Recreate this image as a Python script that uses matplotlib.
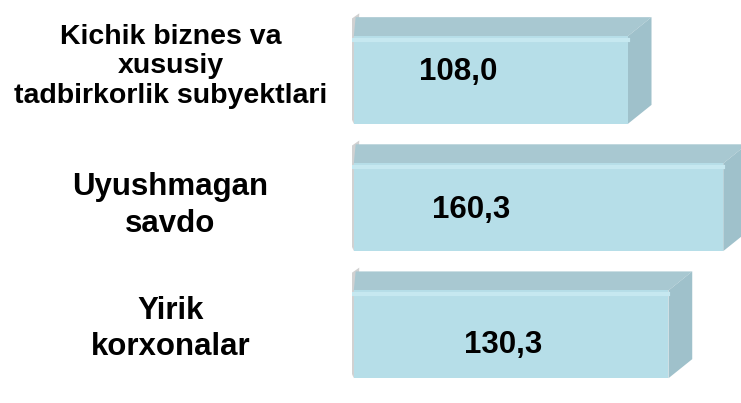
import matplotlib

matplotlib.use("Agg")
import matplotlib.pyplot as plt  # noqa: E402
import matplotlib.transforms as mtransforms  # noqa: E402
from matplotlib.patches import Polygon  # noqa: E402

categories = [
    "Kichik biznes va\nxususiy\ntadbirkorlik subyektlari",
    "Uyushmagan\nsavdo",
    "Yirik\nkorxonalar",
]
values = [108.0, 160.3, 130.3]
value_labels = ["108,0", "160,3", "130,3"]

BASE = -42.0  # bars start left of zero, like the original 3D chart
FRONT = "#b6dee8"
TOP = "#a8c8d1"
SIDE = "#9fc1cb"

fig = plt.figure(figsize=(7.41, 4.03), dpi=100)
ax = fig.add_axes([0.475, 0.0, 0.525, 1.0])

ypos = list(range(len(values)))
height = 0.69
depth_x = 13.0
depth_y = 0.15

bars = ax.barh(
    ypos,
    [v - BASE for v in values],
    left=BASE,
    height=height,
    color=FRONT,
    edgecolor="none",
    zorder=3,
)

for y, v in zip(ypos, values):
    top = y - height / 2
    bot = y + height / 2
    # soft shadow on the left of the box
    ax.add_patch(
        Polygon(
            [
                (BASE - 2.0, top - depth_y + 0.02),
                (BASE + 3.0, top - depth_y - 0.03),
                (BASE, bot),
                (BASE - 1.5, bot - 0.05),
            ],
            closed=True,
            facecolor="#999999",
            alpha=0.45,
            edgecolor="none",
            zorder=1,
        )
    )
    # top face
    ax.add_patch(
        Polygon(
            [
                (BASE, top),
                (v, top),
                (v + depth_x, top - depth_y),
                (BASE + 1, top - depth_y),
            ],
            closed=True,
            facecolor=TOP,
            edgecolor="none",
            zorder=2,
        )
    )
    # side face
    ax.add_patch(
        Polygon(
            [
                (v, top),
                (v + depth_x, top - depth_y),
                (v + depth_x, bot - depth_y),
                (v, bot),
            ],
            closed=True,
            facecolor=SIDE,
            edgecolor="none",
            zorder=2,
        )
    )
    # soft light band along the front top edge
    ax.plot([BASE, v], [top + 0.03, top + 0.03], color="#c6e8f0", lw=3, zorder=4)

label_x = [15, 22.5, 40]
label_dy = [-0.06, 0.02, 0.08]
for y, x, dy, txt in zip(ypos, label_x, label_dy, value_labels):
    ax.text(
        x,
        y + dy,
        txt,
        ha="center",
        va="center",
        fontsize=22.5,
        fontweight="bold",
        family="Liberation Sans",
        color="black",
        zorder=5,
    )

trans = mtransforms.blended_transform_factory(fig.transFigure, ax.transData)
cat_dy = [-0.11, -0.01, -0.04]
cat_size = [20.5, 22.5, 22.5]
cat_spacing = [1.18, 1.3, 1.27]
for y, dy, fs, ls, txt in zip(ypos, cat_dy, cat_size, cat_spacing, categories):
    ax.text(
        0.23,
        y + dy,
        txt,
        transform=trans,
        ha="center",
        va="center",
        multialignment="center",
        fontsize=fs,
        fontweight="bold",
        family="Liberation Sans",
        linespacing=ls,
        color="black",
        clip_on=False,
    )

ax.set_xlim(BASE - 1, 170)
ax.set_ylim(2.54, -0.63)
ax.axis("off")

fig.savefig("out.png", dpi=100)
